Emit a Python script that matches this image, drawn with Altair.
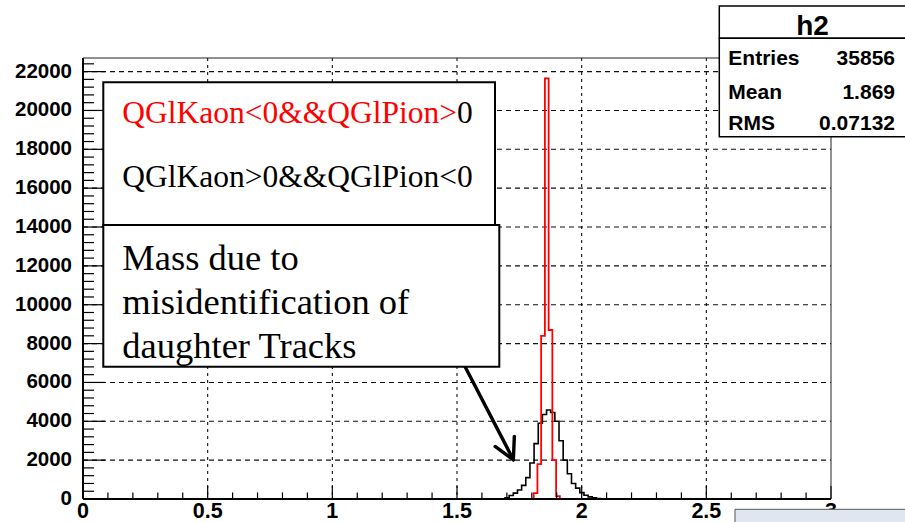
import altair as alt
import pandas as pd

# ---------------------------------------------------------------------------
# Histogram contents (invariant mass, GeV)
# ---------------------------------------------------------------------------
# QGlKaon>0&&QGlPion<0  (black)
BLACK_START = 1.6925
BLACK_WIDTH = 1 / 60
black_counts = [60, 180, 300, 460, 700, 1100, 1850, 2850, 3900, 4350, 4580,
                4450, 4000, 3000, 2000, 1300, 800, 560, 330, 190, 110, 60, 20]

# QGlKaon<0&&QGlPion>0  (red)
RED_START = 1.8075
RED_WIDTH = 0.015
red_counts = [300, 1800, 8400, 21650, 8700, 2000, 150]

# Axis ranges, ticks and labels
X_RANGE = [0, 3]
Y_RANGE = [0, 22700]
x_major = [0, 0.5, 1, 1.5, 2, 2.5, 3]
x_labels = ["0", "0.5", "1", "1.5", "2", "2.5", "3"]
x_grid = [0.5, 1, 1.5, 2, 2.5]
x_minor = [round(i * 0.1, 1) for i in range(31) if i % 5]
y_major = list(range(0, 22001, 2000))
y_labels = [str(v) for v in y_major]
y_grid = list(range(2000, 22001, 2000))
y_minor = [v for v in range(400, 22701, 400) if v % 2000]

# Statistics box
stats_title = "h2"
stats_names = ["Entries", "Mean", "RMS"]
stats_values = ["35856", "1.869", "0.07132"]

# Legend and annotation text
legend_red = "QGlKaon<0&&QGlPion>"
legend_red_tail = "0"
legend_black = "QGlKaon>0&&QGlPion<0"
note_lines = ["Mass due to", "misidentification of", "daughter Tracks"]

# Arrow pointing at the wrong-sign mass peak: shaft and two head strokes
arrow_x = [1.532, 1.726, 1.726]
arrow_y = [6816, 2022, 2022]
arrow_x2 = [1.726, 1.653, 1.730]
arrow_y2 = [2022, 2706, 3220]

# ---------------------------------------------------------------------------
W, H = 748, 441
SANS = "Liberation Sans"
SERIF = "Liberation Serif"


def step_outline(start, width, counts):
    """Outline of a histogram as points for a step-after line."""
    edges = [start + i * width for i in range(len(counts) + 1)]
    rows = [{"x": edges[0], "y": 0, "k": 0}]
    for i, c in enumerate(counts):
        rows.append({"x": edges[i], "y": c, "k": i + 1})
    rows.append({"x": edges[-1], "y": 0, "k": len(counts) + 1})
    return pd.DataFrame(rows)


xs = alt.Scale(domain=X_RANGE, nice=False, zero=False)
ys = alt.Scale(domain=Y_RANGE, nice=False, zero=False)


def X(field):
    return alt.X(field, scale=xs, axis=None)


def Y(field):
    return alt.Y(field, scale=ys, axis=None)


one = pd.DataFrame({"a": [1]})

# Dashed grid
x_grid_lines = alt.Chart(pd.DataFrame({"v": x_grid})).mark_rule(
    color="#111111", strokeWidth=1.1, strokeDash=[3, 4]).encode(
    x=X("v:Q"), y=alt.value(0), y2=alt.value(H))
y_grid_lines = alt.Chart(pd.DataFrame({"v": y_grid})).mark_rule(
    color="#111111", strokeWidth=1.1, strokeDash=[5, 4]).encode(
    y=Y("v:Q"), x=alt.value(0), x2=alt.value(W))

# Histograms
black_line = alt.Chart(step_outline(BLACK_START, BLACK_WIDTH, black_counts)).mark_line(
    interpolate="step-after", color="#000000", strokeWidth=1.6
).encode(x=X("x:Q"), y=Y("y:Q"), order="k:Q")

red_line = alt.Chart(step_outline(RED_START, RED_WIDTH, red_counts)).mark_line(
    interpolate="step-after", color="#ff0000", strokeWidth=1.8
).encode(x=X("x:Q"), y=Y("y:Q"), order="k:Q")

# Tick labels
x_label_text = alt.Chart(pd.DataFrame({"v": x_major, "t": x_labels})).mark_text(
    align="center", baseline="alphabetic", font=SANS, fontWeight="bold",
    fontSize=21.5, color="#000000").encode(
    x=X("v:Q"), y=alt.value(H + 19), text="t:N")
y_label_text = alt.Chart(pd.DataFrame({"v": y_major, "t": y_labels})).mark_text(
    align="right", baseline="middle", font=SANS, fontWeight="bold",
    fontSize=20.5, color="#000000").encode(
    y=Y("v:Q"), x=alt.value(-11), text="t:N")

# Inward tick marks
x_ticks_major = alt.Chart(pd.DataFrame({"v": x_major})).mark_rule(
    color="#000000", strokeWidth=1.2).encode(
    x=X("v:Q"), y=alt.value(H), y2=alt.value(H - 13))
x_ticks_minor = alt.Chart(pd.DataFrame({"v": x_minor})).mark_rule(
    color="#000000", strokeWidth=1.2).encode(
    x=X("v:Q"), y=alt.value(H), y2=alt.value(H - 6.6))
y_ticks_major = alt.Chart(pd.DataFrame({"v": y_major})).mark_rule(
    color="#000000", strokeWidth=1.2).encode(
    y=Y("v:Q"), x=alt.value(0), x2=alt.value(22))
y_ticks_minor = alt.Chart(pd.DataFrame({"v": y_minor})).mark_rule(
    color="#000000", strokeWidth=1.2).encode(
    y=Y("v:Q"), x=alt.value(0), x2=alt.value(11))

# Frame around the plot area
frame = [
    alt.Chart(one).mark_rule(color="#000", strokeWidth=2).encode(
        x=alt.value(0), y=alt.value(0), y2=alt.value(H)),
    alt.Chart(one).mark_rule(color="#000", strokeWidth=2).encode(
        x=alt.value(0), x2=alt.value(W), y=alt.value(H)),
    alt.Chart(one).mark_rule(color="#222", strokeWidth=1).encode(
        x=alt.value(0), x2=alt.value(W), y=alt.value(0)),
    alt.Chart(one).mark_rule(color="#222", strokeWidth=1).encode(
        x=alt.value(W), y=alt.value(0), y2=alt.value(H)),
]

arrow = alt.Chart(pd.DataFrame({"x": arrow_x, "y": arrow_y,
                                "x2": arrow_x2, "y2": arrow_y2})).mark_rule(
    color="#000000", strokeWidth=3.4, strokeCap="round").encode(
    x=X("x:Q"), y=Y("y:Q"), x2="x2:Q", y2="y2:Q")

# Legend box and annotation box
legend_box = alt.Chart(one).mark_rect(
    fill="#ffffff", stroke="#000000", strokeWidth=2).encode(
    x=alt.value(20.3), x2=alt.value(412), y=alt.value(24.3), y2=alt.value(167))
note_box = alt.Chart(one).mark_rect(
    fill="#ffffff", stroke="#000000", strokeWidth=2).encode(
    x=alt.value(20.3), x2=alt.value(416.3), y=alt.value(167), y2=alt.value(308.7))

LEG_FS = 31.5
legend_t1 = alt.Chart(one).mark_text(
    align="left", baseline="alphabetic", font=SERIF, fontSize=LEG_FS,
    color="#ff0000").encode(x=alt.value(39.3), y=alt.value(65.3),
                            text=alt.value(legend_red))
legend_t1b = alt.Chart(one).mark_text(
    align="left", baseline="alphabetic", font=SERIF, fontSize=LEG_FS,
    color="#000000").encode(x=alt.value(39.3 + 10.628 * LEG_FS),
                            y=alt.value(65.3), text=alt.value(legend_red_tail))
legend_t2 = alt.Chart(one).mark_text(
    align="left", baseline="alphabetic", font=SERIF, fontSize=LEG_FS,
    color="#000000").encode(x=alt.value(39.3), y=alt.value(129.3),
                            text=alt.value(legend_black))
note_text = alt.Chart(one).mark_text(
    align="left", baseline="alphabetic", font=SERIF, fontSize=36.5,
    lineHeight=44, color="#000000").encode(
    x=alt.value(39.3), y=alt.value(212), text=alt.value(note_lines))

# Statistics box (top right, partly outside the frame)
stats_title_box = alt.Chart(one).mark_rect(
    fill="#ffffff", stroke="#000000", strokeWidth=1.5).encode(
    x=alt.value(636.3), x2=alt.value(840), y=alt.value(-52), y2=alt.value(-19.7))
stats_body_box = alt.Chart(one).mark_rect(
    fill="#ffffff", stroke="#000000", strokeWidth=1.5).encode(
    x=alt.value(636.3), x2=alt.value(840), y=alt.value(-19.7), y2=alt.value(78.7))
stats_title_text = alt.Chart(one).mark_text(
    align="center", baseline="alphabetic", font=SANS, fontWeight="bold",
    fontSize=28, color="#000000").encode(
    x=alt.value(729.5), y=alt.value(-23), text=alt.value(stats_title))

stats_rows = []
for name, val, base in zip(stats_names, stats_values, [7, 41, 72]):
    stats_rows.append(alt.Chart(one).mark_text(
        align="left", baseline="alphabetic", font=SANS, fontWeight="bold",
        fontSize=21, color="#000000").encode(
        x=alt.value(645.3), y=alt.value(base), text=alt.value(name)))
    stats_rows.append(alt.Chart(one).mark_text(
        align="right", baseline="alphabetic", font=SANS, fontWeight="bold",
        fontSize=21, color="#000000").encode(
        x=alt.value(812), y=alt.value(base), text=alt.value(val)))

# Light panel in the lower right corner
corner_panel = alt.Chart(one).mark_rect(
    fill="#dfe6f0", stroke="#555555", strokeWidth=1).encode(
    x=alt.value(652), x2=alt.value(840), y=alt.value(451.3), y2=alt.value(480))

chart = alt.layer(
    x_grid_lines, y_grid_lines,
    black_line, red_line,
    x_label_text, y_label_text,
    x_ticks_major, x_ticks_minor, y_ticks_major, y_ticks_minor,
    *frame,
    arrow,
    legend_box, note_box, legend_t1, legend_t1b, legend_t2, note_text,
    stats_title_box, stats_body_box, stats_title_text,
    *stats_rows,
    corner_panel,
).properties(
    width=W, height=H,
    padding={"left": 83, "top": 58, "right": 74, "bottom": 23},
    autosize=alt.AutoSizeParams(type="none"),
    background="#ffffff",
).configure_view(stroke=None)

chart.save("out.html", embed_options={"renderer": "svg", "actions": False})
